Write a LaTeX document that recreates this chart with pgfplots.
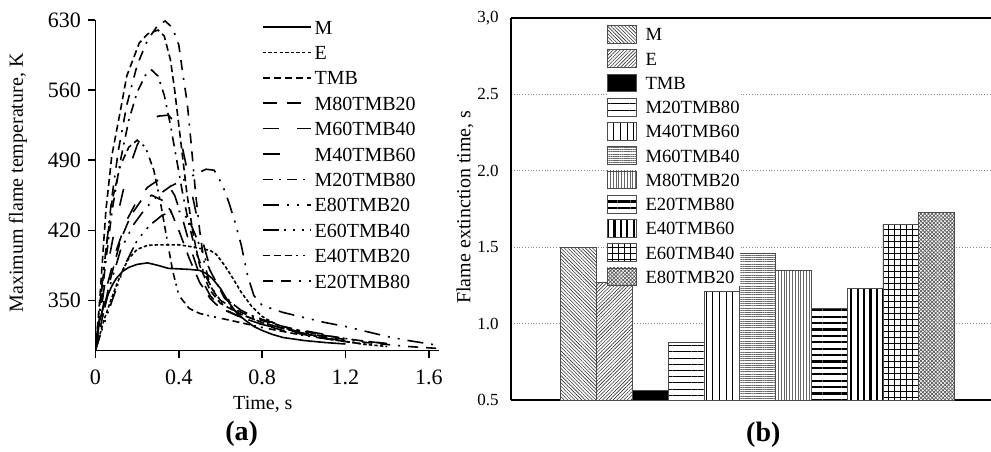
\documentclass[border=0pt]{standalone}
\usepackage{fontspec}
\setmainfont{Liberation Serif}
\usepackage{pgfplots}
\pgfplotsset{compat=1.18}
\usetikzlibrary{patterns,patterns.meta}

\pgfplotsset{
  mybar/.style={ybar, bar width=1, bar shift=0pt, draw=black!70, line width=0.4pt,
    preaction={fill=white},
    legend image code/.code={\draw[##1,line width=0.4pt] (0pt,-4.43pt) rectangle (14.5pt,4.43pt); \path (19pt,0pt);}},
  myline/.style={line width=0.8pt, black}
}

\begin{document}
\begin{tikzpicture}[x=1pt,y=1pt]
\path[use as bounding box] (0,0) rectangle (495.5,225.5);

% ---------------- (a) ----------------
\begin{axis}[
  at={(47.75pt,50.25pt)}, anchor=south west,
  scale only axis, width=171.85pt, height=165.25pt,
  xmin=0, xmax=1.65, ymin=300, ymax=630,
  axis lines=left, axis line style={-, line width=0.8pt},
  xtick={0,0.4,0.8,1.2,1.6}, xticklabels={0,0.4,0.8,1.2,1.6},
  ytick={350,420,490,560,630},
  tick align=outside, major tick length=3.75pt,
  tick style={line width=0.8pt, black},
  ticklabel style={font=\fontsize{11}{12}\selectfont},
  xticklabel style={yshift=-2.5pt},
  /pgf/number format/assume math mode=true,
  xlabel={Time, s}, ylabel={Maximum flame temperature, K},
  label style={font=\fontsize{10}{12}\selectfont},
  xlabel style={at={(axis description cs:0.487,-0.1619)}, anchor=center},
  ylabel style={at={(axis description cs:-0.2255,0.507)}, anchor=center},
  legend cell align=left,
  legend image code/.code={\draw[#1] (0pt,0pt) -- (24pt,0pt); \path (25.5pt,0pt);},
  legend style={at={(axis description cs:0.4844,1.0)}, anchor=north west,
    draw=none, fill=white, inner sep=0pt, outer sep=0pt, row sep=5.7pt,
    nodes={inner sep=0pt, text height=7pt, text depth=0pt, font=\fontsize{10}{12}\selectfont}},
]
% M
\addplot[myline] coordinates {(0,300) (0.01,315) (0.02,330) (0.04,345) (0.06,356) (0.08,365) (0.1,372) (0.13,379) (0.16,383) (0.2,386) (0.25,387.5) (0.3,385) (0.35,382) (0.4,381.5) (0.45,381) (0.5,380) (0.53,377) (0.56,372) (0.6,362) (0.64,348) (0.68,337) (0.72,330) (0.76,324) (0.8,320) (0.85,316) (0.9,313) (0.95,311.5) (1.0,310) (1.1,308) (1.2,306.5)};
\addlegendentry{M}
% E
\addplot[myline, dash pattern=on 1.7pt off 1.1pt] coordinates {(0,300) (0.02,315) (0.04,330) (0.07,348) (0.1,365) (0.13,380) (0.16,392) (0.2,401) (0.25,405) (0.3,405.5) (0.4,405.5) (0.45,404) (0.5,402) (0.55,400) (0.58,396) (0.62,385) (0.66,372) (0.7,358) (0.75,344) (0.8,334) (0.85,328) (0.9,323) (1.0,317) (1.1,312) (1.2,309) (1.3,306) (1.4,304)};
\addlegendentry{E}
% TMB
\addplot[myline, dash pattern=on 3.5pt off 2pt] coordinates {(0,300) (0.02,350) (0.05,440) (0.078,494) (0.12,540) (0.15,574) (0.21,607) (0.25,616) (0.3,620) (0.33,614) (0.36,590) (0.38,560) (0.4,525) (0.42,490) (0.44,455) (0.47,415) (0.5,385) (0.55,360) (0.6,347) (0.7,336) (0.8,328) (0.9,322) (1.0,317) (1.1,313) (1.2,309) (1.3,306)};
\addlegendentry{TMB}
% M80TMB20
\addplot[myline, dash pattern=on 7pt off 5pt] coordinates {(0,300) (0.03,330) (0.07,370) (0.12,410) (0.17,435) (0.22,450) (0.27,455) (0.32,450) (0.36,440) (0.4,420) (0.45,392) (0.5,368) (0.55,352) (0.6,342) (0.7,333) (0.8,326) (0.9,320) (1.0,316) (1.1,312) (1.2,309)};
\addlegendentry{M80TMB20}
% M60TMB40
\addplot[myline, dash pattern=on 8pt off 9pt] coordinates {(0,300) (0.02,325) (0.05,360) (0.1,400) (0.15,430) (0.2,450) (0.25,463) (0.3,470) (0.34,468) (0.38,455) (0.42,430) (0.46,400) (0.5,375) (0.55,355) (0.6,343) (0.7,333) (0.8,326) (0.9,321) (1.0,317) (1.1,313)};
\addlegendentry{M60TMB40}
% M40TMB60
\addplot[myline, dash pattern=on 8.5pt off 16pt] coordinates {(0,300) (0.02,330) (0.05,375) (0.1,430) (0.15,475) (0.2,505) (0.25,525) (0.3,534) (0.35,535) (0.38,528) (0.41,510) (0.44,480) (0.47,450) (0.5,420) (0.54,390) (0.58,368) (0.62,352) (0.7,340) (0.8,331) (0.9,325) (1.0,320) (1.1,316) (1.2,313)};
\addlegendentry{M40TMB60}
% M20TMB80
\addplot[myline, dash pattern=on 5pt off 3pt on 1pt off 3pt] coordinates {(0,300) (0.02,335) (0.05,390) (0.08,440) (0.12,490) (0.16,530) (0.2,558) (0.24,575) (0.27,580) (0.3,574) (0.33,555) (0.36,525) (0.39,490) (0.42,455) (0.45,425) (0.48,400) (0.52,378) (0.56,362) (0.6,350) (0.7,338) (0.8,330) (0.9,324) (1.0,319) (1.1,315) (1.2,312) (1.3,309) (1.4,307)};
\addlegendentry{M20TMB80}
% E80TMB20
\addplot[myline, dash pattern=on 8pt off 4pt on 1pt off 4pt on 1pt off 4pt] coordinates {(0,300) (0.03,330) (0.07,365) (0.12,400) (0.18,425) (0.24,442) (0.3,455) (0.36,464) (0.42,470) (0.48,476) (0.53,481) (0.57,480) (0.61,465) (0.64,448) (0.67,428) (0.7,405) (0.73,375) (0.76,355) (0.8,345) (0.9,338) (1.0,333) (1.1,328) (1.2,324) (1.3,319) (1.4,314) (1.5,310) (1.62,306)};
\addlegendentry{E80TMB20}
% E60TMB40
\addplot[myline, dash pattern=on 8pt off 2.5pt on 1pt off 3.5pt on 1pt off 3.5pt on 1pt off 3pt] coordinates {(0,300) (0.03,320) (0.08,350) (0.14,385) (0.2,410) (0.26,425) (0.32,435) (0.38,440) (0.42,438) (0.46,425) (0.5,405) (0.55,380) (0.6,360) (0.65,348) (0.7,340) (0.8,330) (0.9,324) (1.0,319) (1.1,315) (1.2,312) (1.3,309) (1.4,307)};
\addlegendentry{E60TMB40}
% E40TMB20
\addplot[myline, dash pattern=on 3.5pt off 2pt on 3.5pt off 2pt on 3.5pt off 2pt on 1pt off 2.5pt on 1pt off 3pt] coordinates {(0,300) (0.02,340) (0.05,400) (0.08,450) (0.12,485) (0.16,503) (0.2,510) (0.24,503) (0.28,480) (0.31,450) (0.34,415) (0.37,380) (0.4,355) (0.45,342) (0.5,337) (0.56,334) (0.65,330) (0.8,323) (0.9,319) (1.0,315) (1.1,312) (1.2,309)};
\addlegendentry{E40TMB20}
% E20TMB80
\addplot[myline, dash pattern=on 5pt off 4pt on 5pt off 4pt on 1pt off 4pt] coordinates {(0,300) (0.02,345) (0.05,400) (0.08,455) (0.11,500) (0.15,545) (0.2,585) (0.25,610) (0.3,625) (0.335,629) (0.37,622) (0.4,605) (0.42,575) (0.44,548) (0.46,505) (0.48,458) (0.5,420) (0.52,390) (0.55,365) (0.6,348) (0.7,336) (0.8,328) (0.9,322) (1.0,318) (1.1,314) (1.2,311) (1.3,308) (1.4,306) (1.5,304) (1.65,302)};
\addlegendentry{E20TMB80}
\end{axis}

% ---------------- (b) ----------------
\begin{axis}[
  at={(255.5pt,25.5pt)}, anchor=south west,
  scale only axis, width=239.75pt, height=191pt,
  xmin=-1.891, xmax=11.503, ymin=0.5, ymax=3.0,
  axis x line=box, axis y line=left,
  axis line style={-, line width=0.7pt, black},
  xtick=\empty,
  ytick={0.5,1.0,1.5,2.0,2.5,3.0},
  yticklabels={0.5,1.0,1.5,2.0,2.5,{3,0}},
  major tick length=0pt,
  ymajorgrids, grid style={densely dotted, black!45, line width=0.4pt},
  yticklabel style={font=\fontsize{8.5}{10}\selectfont, xshift=-2.6pt},
  ylabel={Flame extinction time, s},
  label style={font=\fontsize{10}{12}\selectfont},
  ylabel style={at={(axis description cs:-0.0959,0.505)}, anchor=center},
  legend cell align=left,
  legend style={at={(axis description cs:0.1996,0.9814)}, anchor=north west,
    draw=none, fill=white, inner sep=0pt, outer sep=0pt, row sep=2.86pt,
    nodes={inner sep=0pt, text height=6.5pt, text depth=0pt, font=\fontsize{9.3}{11}\selectfont}},
]
\addplot[mybar, pattern={Lines[angle=-45,distance=1.25pt,line width=0.3pt]}, pattern color=black!80] coordinates {(0,1.50)};
\addlegendentry{M}
\addplot[mybar, pattern={Lines[angle=45,distance=1.25pt,line width=0.3pt]}, pattern color=black!80] coordinates {(1,1.27)};
\addlegendentry{E}
\addplot[mybar, fill=black] coordinates {(2,0.56)};
\addlegendentry{TMB}
\addplot[mybar, pattern={Lines[angle=0,distance=3.1pt,line width=0.4pt]}, pattern color=black] coordinates {(3,0.88)};
\addlegendentry{M20TMB80}
\addplot[mybar, pattern={Lines[angle=90,distance=3.3pt,line width=0.4pt]}, pattern color=black] coordinates {(4,1.21)};
\addlegendentry{M40TMB60}
\addplot[mybar, pattern={Lines[angle=0,distance=1.1pt,line width=0.35pt]}, pattern color=black!60] coordinates {(5,1.46)};
\addlegendentry{M60TMB40}
\addplot[mybar, pattern={Lines[angle=90,distance=1.4pt,line width=0.35pt]}, pattern color=black!60] coordinates {(6,1.35)};
\addlegendentry{M80TMB20}
\addplot[mybar, pattern={Lines[angle=0,distance=3.2pt,line width=1.1pt]}, pattern color=black] coordinates {(7,1.10)};
\addlegendentry{E20TMB80}
\addplot[mybar, pattern={Lines[angle=90,distance=3.2pt,line width=1.1pt]}, pattern color=black] coordinates {(8,1.23)};
\addlegendentry{E40TMB60}
\addplot[mybar, pattern={Hatch[angle=0,distance=3pt,line width=0.35pt]}, pattern color=black] coordinates {(9,1.65)};
\addlegendentry{E60TMB40}
\addplot[mybar, pattern={Hatch[angle=45,distance=1.3pt,line width=0.35pt]}, pattern color=black!65] coordinates {(10,1.73)};
\addlegendentry{E80TMB20}
\end{axis}

\node[font=\fontsize{14}{16}\selectfont\bfseries] at (120.85,8.5) {(a)};
\node[font=\fontsize{14}{16}\selectfont\bfseries] at (381.65,8) {(b)};
\end{tikzpicture}
\end{document}
